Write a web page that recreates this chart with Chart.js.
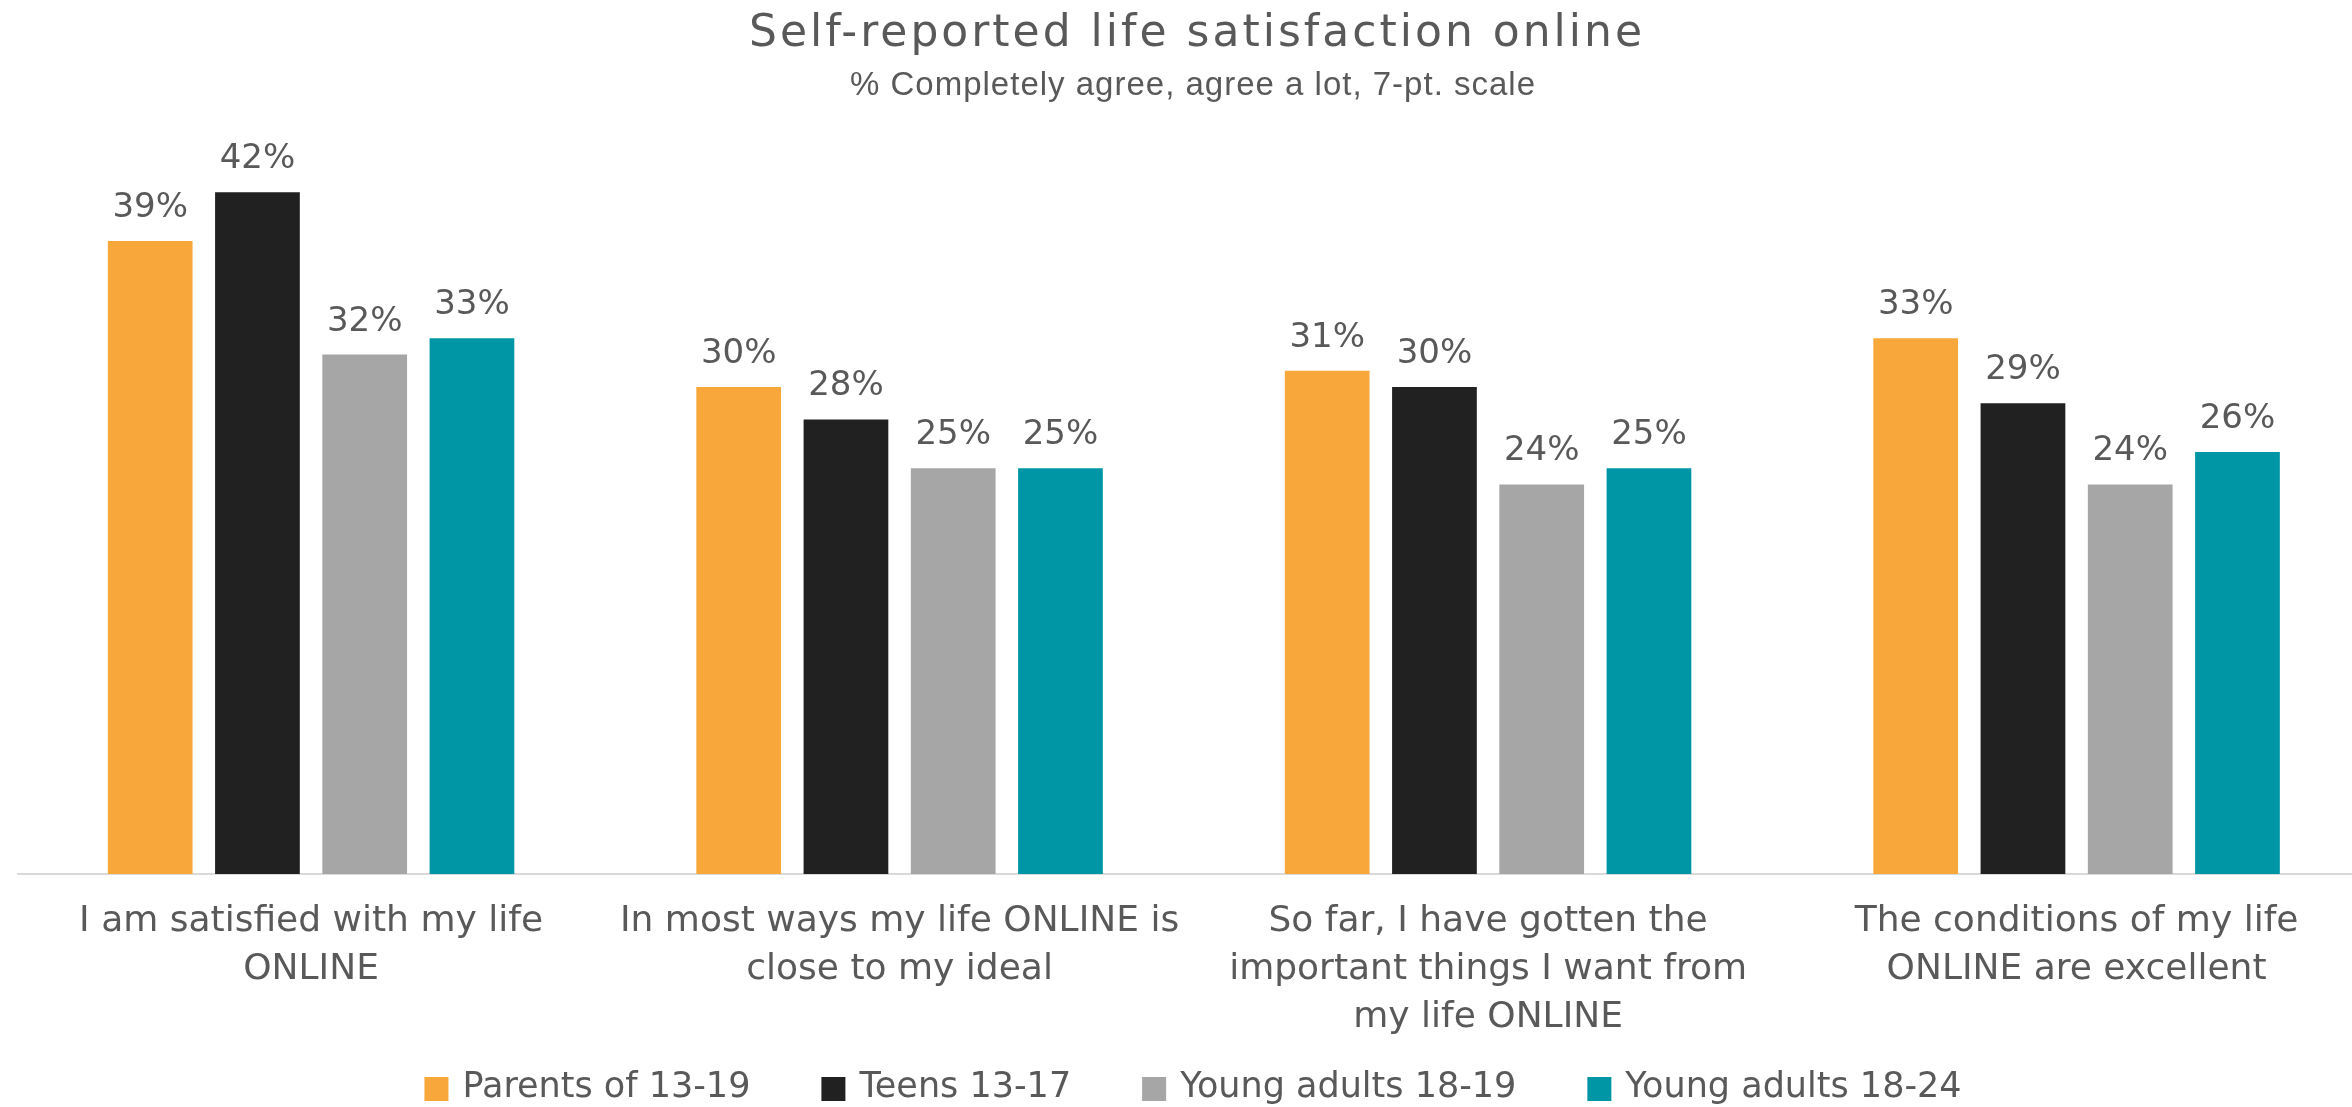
<!DOCTYPE html>
<html>
<head>
<meta charset="utf-8">
<script src="https://cdn.jsdelivr.net/npm/chart.js@4.4.1/dist/chart.umd.min.js"></script>
<style>
  html, body { margin: 0; padding: 0; background: #fff; }
  #wrap { width: 2352px; height: 1107px; position: relative; }
</style>
</head>
<body>
<div id="wrap"><canvas id="chart"></canvas></div>
<script>
const titleText = 'Self-reported life satisfaction online';
const subtitleText = '% Completely agree, agree a lot, 7-pt. scale';

const categories = [
  ['I am satisfied with my life', 'ONLINE'],
  ['In most ways my life ONLINE is', 'close to my ideal'],
  ['So far, I have gotten the', 'important things I want from', 'my life ONLINE'],
  ['The conditions of my life', 'ONLINE are excellent']
];

const seriesNames = ['Parents of 13-19', 'Teens 13-17', 'Young adults 18-19', 'Young adults 18-24'];
const parents = [39, 30, 31, 33];
const teens = [42, 28, 30, 29];
const youngAdults1819 = [32, 25, 24, 24];
const youngAdults1824 = [33, 25, 25, 26];
const seriesColors = ['#F8A73B', '#212121', '#A6A6A6', '#0096A6'];

const textGray = '#595959';

// bars sit on a linear x axis (category i at x = i) so the groups can be
// spaced like the original, whose last group runs a bit past the right edge
const toPoints = arr => arr.map((v, i) => ({ x: i, y: v }));

// value labels above each bar
const valueLabels = {
  id: 'valueLabels',
  afterDatasetsDraw(chart) {
    const ctx = chart.ctx;
    ctx.save();
    ctx.font = '34px "DejaVu Sans"';
    ctx.fillStyle = textGray;
    ctx.textAlign = 'center';
    ctx.textBaseline = 'alphabetic';
    chart.data.datasets.forEach((ds, i) => {
      chart.getDatasetMeta(i).data.forEach((bar, j) => {
        ctx.fillText(ds.data[j].y + '%', bar.x, bar.y - 24);
      });
    });
    ctx.restore();
  }
};

// title, subtitle and legend drawn with letter spacing
const headerAndLegend = {
  id: 'headerAndLegend',
  afterDraw(chart) {
    const ctx = chart.ctx;
    ctx.save();
    ctx.fillStyle = textGray;
    ctx.textAlign = 'center';
    ctx.textBaseline = 'alphabetic';
    ctx.font = '44px "DejaVu Sans"';
    ctx.letterSpacing = '3px';
    ctx.fillText(titleText, 1197, 46);
    ctx.font = '33px "Liberation Sans"';
    ctx.letterSpacing = '1px';
    ctx.fillText(subtitleText, 1193, 95);
    ctx.letterSpacing = '0px';

    // legend
    ctx.font = '35px "DejaVu Sans"';
    ctx.textAlign = 'left';
    const box = 24, gapText = 14, gapItem = 71;
    const items = chart.data.datasets.map(ds => ({
      label: ds.label, color: ds.backgroundColor, w: ctx.measureText(ds.label).width
    }));
    const total = items.reduce((s, it) => s + box + gapText + it.w, 0) + gapItem * (items.length - 1);
    let x = 1193 - total / 2;
    items.forEach(it => {
      ctx.fillStyle = it.color;
      ctx.fillRect(x, 1077, box, box);
      ctx.fillStyle = textGray;
      ctx.fillText(it.label, x + box + gapText, 1097);
      x += box + gapText + it.w + gapItem;
    });
    ctx.restore();
  }
};

new Chart(document.getElementById('chart'), {
  type: 'bar',
  data: {
    datasets: [
      { label: seriesNames[0], data: toPoints(parents), backgroundColor: seriesColors[0] },
      { label: seriesNames[1], data: toPoints(teens), backgroundColor: seriesColors[1] },
      { label: seriesNames[2], data: toPoints(youngAdults1819), backgroundColor: seriesColors[2] },
      { label: seriesNames[3], data: toPoints(youngAdults1824), backgroundColor: seriesColors[3] }
    ]
  },
  options: {
    responsive: true,
    maintainAspectRatio: false,
    devicePixelRatio: 1,
    animation: false,
    datasets: {
      bar: { barPercentage: 0.79, categoryPercentage: 0.729 }
    },
    layout: {
      padding: { top: 143.5, left: 18, right: 0, bottom: 41 }
    },
    plugins: {
      legend: { display: false },
      title: { display: false },
      tooltip: { enabled: false }
    },
    scales: {
      x: {
        type: 'linear',
        min: -0.498,
        max: 3.468,
        offset: false,
        grid: { display: false, drawTicks: false },
        border: { display: true, color: '#D9D9D9', width: 2 },
        afterBuildTicks: scale => {
          scale.ticks = scale.ticks.filter(t => Number.isInteger(t.value));
        },
        ticks: {
          stepSize: 1,
          callback: value => categories[value],
          color: textGray,
          font: { family: 'DejaVu Sans', size: 36, lineHeight: 1.3333 },
          padding: 24,
          maxRotation: 0,
          autoSkip: false
        }
      },
      y: {
        display: false,
        min: 0,
        max: 45
      }
    }
  },
  plugins: [valueLabels, headerAndLegend]
});
</script>
</body>
</html>
